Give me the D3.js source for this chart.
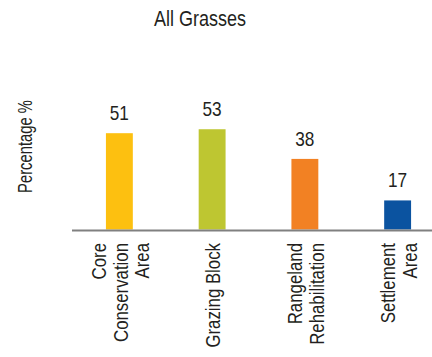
<!DOCTYPE html>
<html>
<head>
<meta charset="utf-8">
<script src="https://cdn.jsdelivr.net/npm/d3@7"></script>
<style>
  html, body { margin: 0; padding: 0; background: #fff; }
  svg { display: block; }
  text { font-family: "Liberation Sans", Arial, sans-serif; fill: #231f20; }
</style>
</head>
<body>
<svg id="chart" width="432" height="357"></svg>
<script>
const title = "All Grasses";
const yLabel = "Percentage %";
const categories = ["Core Conservation Area", "Grazing Block", "Rangeland Rehabilitation", "Settlement Area"];
const categoryLines = [["Core", "Conservation", "Area"], ["Grazing Block"], ["Rangeland", "Rehabilitation"], ["Settlement", "Area"]];
const values = [51, 53, 38, 17];
const colors = ["#fdc010", "#bec631", "#f28123", "#0b53a0"];

const W = 432, H = 357;
const svg = d3.select("#chart");
const narrow = 0.82; // condensed look

const axisY = 229.5;
const x = d3.scaleBand()
  .domain(categories)
  .range([73, 444])
  .paddingInner(0.71)
  .paddingOuter(0.355);

const y = d3.scaleLinear()
  .domain([2.3, 60])
  .range([axisY, 115.4]);

// title
svg.append("text")
  .attr("transform", `translate(200,26) scale(${narrow},1)`)
  .attr("text-anchor", "middle")
  .style("font-size", "22px")
  .text(title);

// y label
svg.append("text")
  .attr("transform", `translate(31.5,146.5) rotate(-90) scale(0.74,1)`)
  .attr("text-anchor", "middle")
  .style("font-size", "20px")
  .text(yLabel);

// bars
svg.append("g").selectAll("rect")
  .data(values)
  .join("rect")
  .attr("x", (d, i) => x(categories[i]))
  .attr("width", x.bandwidth())
  .attr("y", d => y(d))
  .attr("height", d => axisY - y(d))
  .attr("fill", (d, i) => colors[i]);

// value labels
svg.append("g").selectAll("text")
  .data(values)
  .join("text")
  .attr("transform", (d, i) => `translate(${x(categories[i]) + x.bandwidth() / 2},${y(d) - 13}) scale(${narrow},1)`)
  .attr("text-anchor", "middle")
  .style("font-size", "21px")
  .text(d => d);

// axis line
svg.append("line")
  .attr("x1", 72).attr("x2", W)
  .attr("y1", axisY + 1).attr("y2", axisY + 1)
  .attr("stroke", "#808080")
  .attr("stroke-width", 2);

// category labels
const lh = 21.5;
const cg = svg.append("g").selectAll("text")
  .data(categories)
  .join("text")
  .attr("transform", d => `translate(${x(d) + x.bandwidth() / 2},243) rotate(-90) scale(${narrow},1)`)
  .attr("text-anchor", "end")
  .style("font-size", "20.5px");

cg.each(function(d, i) {
  const lines = categoryLines[i];
  const n = lines.length;
  d3.select(this).selectAll("tspan")
    .data(lines)
    .join("tspan")
    .attr("x", 0)
    .attr("y", (l, j) => 8.2 + (j - (n - 1) / 2) * lh)
    .text(l => l);
});
</script>
</body>
</html>
